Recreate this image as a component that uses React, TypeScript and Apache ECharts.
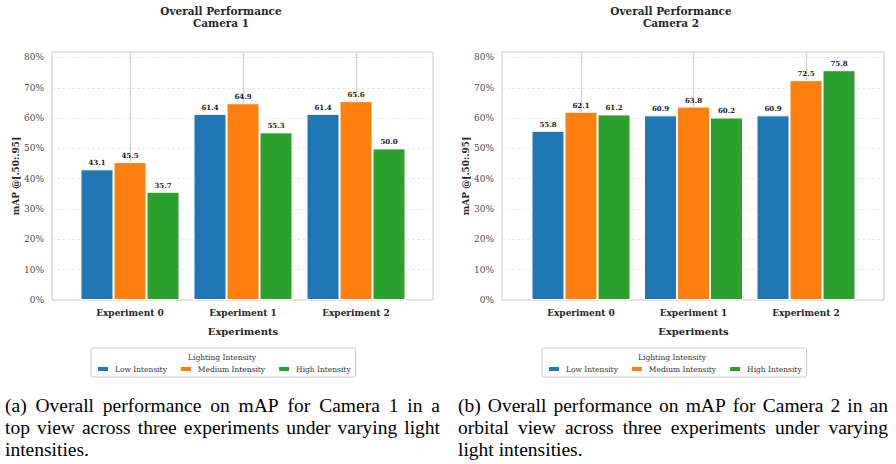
import React, { useEffect, useRef } from "react";
import * as echarts from "echarts";

// ---- data ----
const categories = ["Experiment 0", "Experiment 1", "Experiment 2"];
const seriesNames = ["Low Intensity", "Medium Intensity", "High Intensity"];
const seriesColors = ["#1f77b4", "#ff7f0e", "#2ca02c"];

const camera1Low = [43.1, 61.4, 61.4];
const camera1Medium = [45.5, 64.9, 65.6];
const camera1High = [35.7, 55.3, 50.0];

const camera2Low = [55.8, 60.9, 60.9];
const camera2Medium = [62.1, 63.8, 72.5];
const camera2High = [61.2, 60.2, 75.8];

const panelTitles = ["Overall Performance\nCamera 1", "Overall Performance\nCamera 2"];
const yAxisName = "mAP @[.50:.95]";
const xAxisName = "Experiments";
const legendTitle = "Lighting Intensity";
const yMax = 81.8;
const yStep = 10;

const captionA = [
  "(a) Overall performance on mAP for Camera 1 in a",
  "top view across three experiments under varying light",
  "intensities.",
];
const captionB = [
  "(b) Overall performance on mAP for Camera 2 in an",
  "orbital view across three experiments under varying",
  "light intensities.",
];

const panelValues = [
  [camera1Low, camera1Medium, camera1High],
  [camera2Low, camera2Medium, camera2High],
];

// ---- layout ----
const W = 896;
const H = 464;
const plotTop = 52;
const plotBottom = 300;
const panels = [
  { frameLeft: 52, frameRight: 433, firstCat: 130, lastCat: 356, center: 221, legendLeft: 91 },
  { frameLeft: 502, frameRight: 884, firstCat: 581, lastCat: 806, center: 671, legendLeft: 542 },
];
const SERIF = "DejaVu Serif";
const CAPTION_FONT = "Liberation Serif";
const CAPTION_SIZE = 19.5;

// Justified caption: every line but the last is spread across the column.
function captionElements(lines: string[], x0: number, x1: number, y0: number, lineGap: number) {
  const canvas = document.createElement("canvas");
  const ctx = canvas.getContext("2d")!;
  ctx.font = `${CAPTION_SIZE}px "${CAPTION_FONT}"`;
  const out: any[] = [];
  const style = (text: string) => ({
    text,
    fontSize: CAPTION_SIZE,
    fontFamily: CAPTION_FONT,
    fill: "#000",
    align: "left",
    verticalAlign: "middle",
  });
  lines.forEach((line, i) => {
    const y = y0 + i * lineGap;
    if (i === lines.length - 1) {
      out.push({ type: "text", x: x0, y, z: 100, style: style(line) });
      return;
    }
    const words = line.split(" ");
    const widths = words.map((w) => ctx.measureText(w).width);
    const total = widths.reduce((a, b) => a + b, 0);
    const gap = Math.max(3, (x1 - x0 - total) / (words.length - 1));
    let x = x0;
    words.forEach((w, j) => {
      out.push({ type: "text", x, y, z: 100, style: style(w) });
      x += widths[j] + gap;
    });
  });
  return out;
}

export default function App() {
  const ref = useRef<HTMLDivElement>(null);

  useEffect(() => {
    if (!ref.current) return;
    const chart = echarts.init(ref.current, undefined, { renderer: "svg" });

    const grid: any[] = [];
    const xAxis: any[] = [];
    const yAxis: any[] = [];
    const series: any[] = [];
    const legend: any[] = [];
    const graphic: any[] = [];

    panels.forEach((p, pi) => {
      const frameIdx = pi * 2;
      const barIdx = pi * 2 + 1;
      // frame grid: border, y ticks and dashed horizontal grid
      grid.push({
        left: p.frameLeft,
        right: W - p.frameRight,
        top: plotTop,
        bottom: H - plotBottom,
        show: true,
        borderColor: "#cccccc",
        borderWidth: 1,
      });
      // bar grid: category centers on the first/last experiment
      grid.push({
        left: p.firstCat,
        right: W - p.lastCat,
        top: plotTop,
        bottom: H - plotBottom,
      });
      xAxis.push({ type: "value", gridIndex: frameIdx, min: 0, max: 1, show: false });
      xAxis.push({
        type: "category",
        gridIndex: barIdx,
        data: categories,
        boundaryGap: false,
        axisLine: { show: false },
        axisTick: { show: false },
        axisLabel: {
          fontFamily: SERIF,
          fontWeight: "bold",
          fontSize: 9,
          color: "#262626",
          margin: 8,
        },
        splitLine: { show: true, lineStyle: { color: "#d4d4d4", width: 1.4 } },
        name: xAxisName,
        nameLocation: "middle",
        nameGap: 26,
        nameTextStyle: { fontFamily: SERIF, fontWeight: "bold", fontSize: 10, color: "#262626" },
      });
      yAxis.push({
        type: "value",
        gridIndex: frameIdx,
        min: 0,
        max: yMax,
        interval: yStep,
        axisLine: { show: false },
        axisTick: { show: false },
        axisLabel: {
          fontFamily: SERIF,
          fontSize: 9,
          color: "#4d4d4d",
          margin: 8,
          showMaxLabel: false,
          formatter: (v: number) => (Math.abs(v % yStep) < 1e-6 ? `${v}%` : ""),
        },
        splitLine: { show: true, lineStyle: { color: "#e3e3e3", type: [3, 2], width: 0.8 } },
        name: yAxisName,
        nameLocation: "middle",
        nameGap: 32,
        nameRotate: 90,
        nameTextStyle: { fontFamily: SERIF, fontWeight: "bold", fontSize: 9, color: "#262626" },
      });
      yAxis.push({ type: "value", gridIndex: barIdx, min: 0, max: yMax, show: false, splitLine: { show: false } });

      seriesNames.forEach((name, si) => {
        series.push({
          type: "bar",
          name,
          xAxisIndex: barIdx,
          yAxisIndex: barIdx,
          data: panelValues[pi][si],
          barWidth: 33,
          barGap: "0%",
          itemStyle: { color: seriesColors[si], borderColor: "#ffffff", borderWidth: 1 },
          label: {
            show: true,
            position: "top",
            distance: 3,
            fontFamily: SERIF,
            fontWeight: "bold",
            fontSize: 7,
            color: "#1a1a1a",
            formatter: (d: any) => Number(d.value).toFixed(1),
          },
        });
      });

      legend.push({
        data: seriesNames,
        left: p.legendLeft,
        top: 348,
        orient: "horizontal",
        icon: "rect",
        itemWidth: 12,
        itemHeight: 6,
        itemGap: 12,
        padding: [17, 5, 4, 5],
        backgroundColor: "#ffffff",
        borderColor: "#cccccc",
        borderWidth: 1,
        borderRadius: 2,
        selectedMode: false,
        textStyle: { fontFamily: SERIF, fontSize: 7.5, color: "#333333", padding: [0, 0, 0, 1] },
      });

      graphic.push({
        type: "text",
        x: p.center,
        y: 17,
        z: 100,
        style: {
          text: panelTitles[pi],
          fontFamily: SERIF,
          fontWeight: "bold",
          fontSize: 10.5,
          lineHeight: 12.5,
          fill: "#262626",
          align: "center",
          verticalAlign: "middle",
        },
      });
      graphic.push({
        type: "text",
        x: p.center + 1,
        y: 357,
        z: 100,
        style: {
          text: legendTitle,
          fontFamily: SERIF,
          fontSize: 7.5,
          fill: "#333333",
          align: "center",
          verticalAlign: "middle",
        },
      });
    });

    graphic.push(...captionElements(captionA, 5, 440, 405, 22));
    graphic.push(...captionElements(captionB, 458, 888, 405, 22));

    chart.setOption({
      animation: false,
      backgroundColor: "#ffffff",
      grid,
      xAxis,
      yAxis,
      series,
      legend,
      graphic,
    });

    return () => chart.dispose();
  }, []);

  return (
    <div
      ref={ref}
      style={{ position: "fixed", left: 0, top: 0, width: W, height: H }}
    />
  );
}
